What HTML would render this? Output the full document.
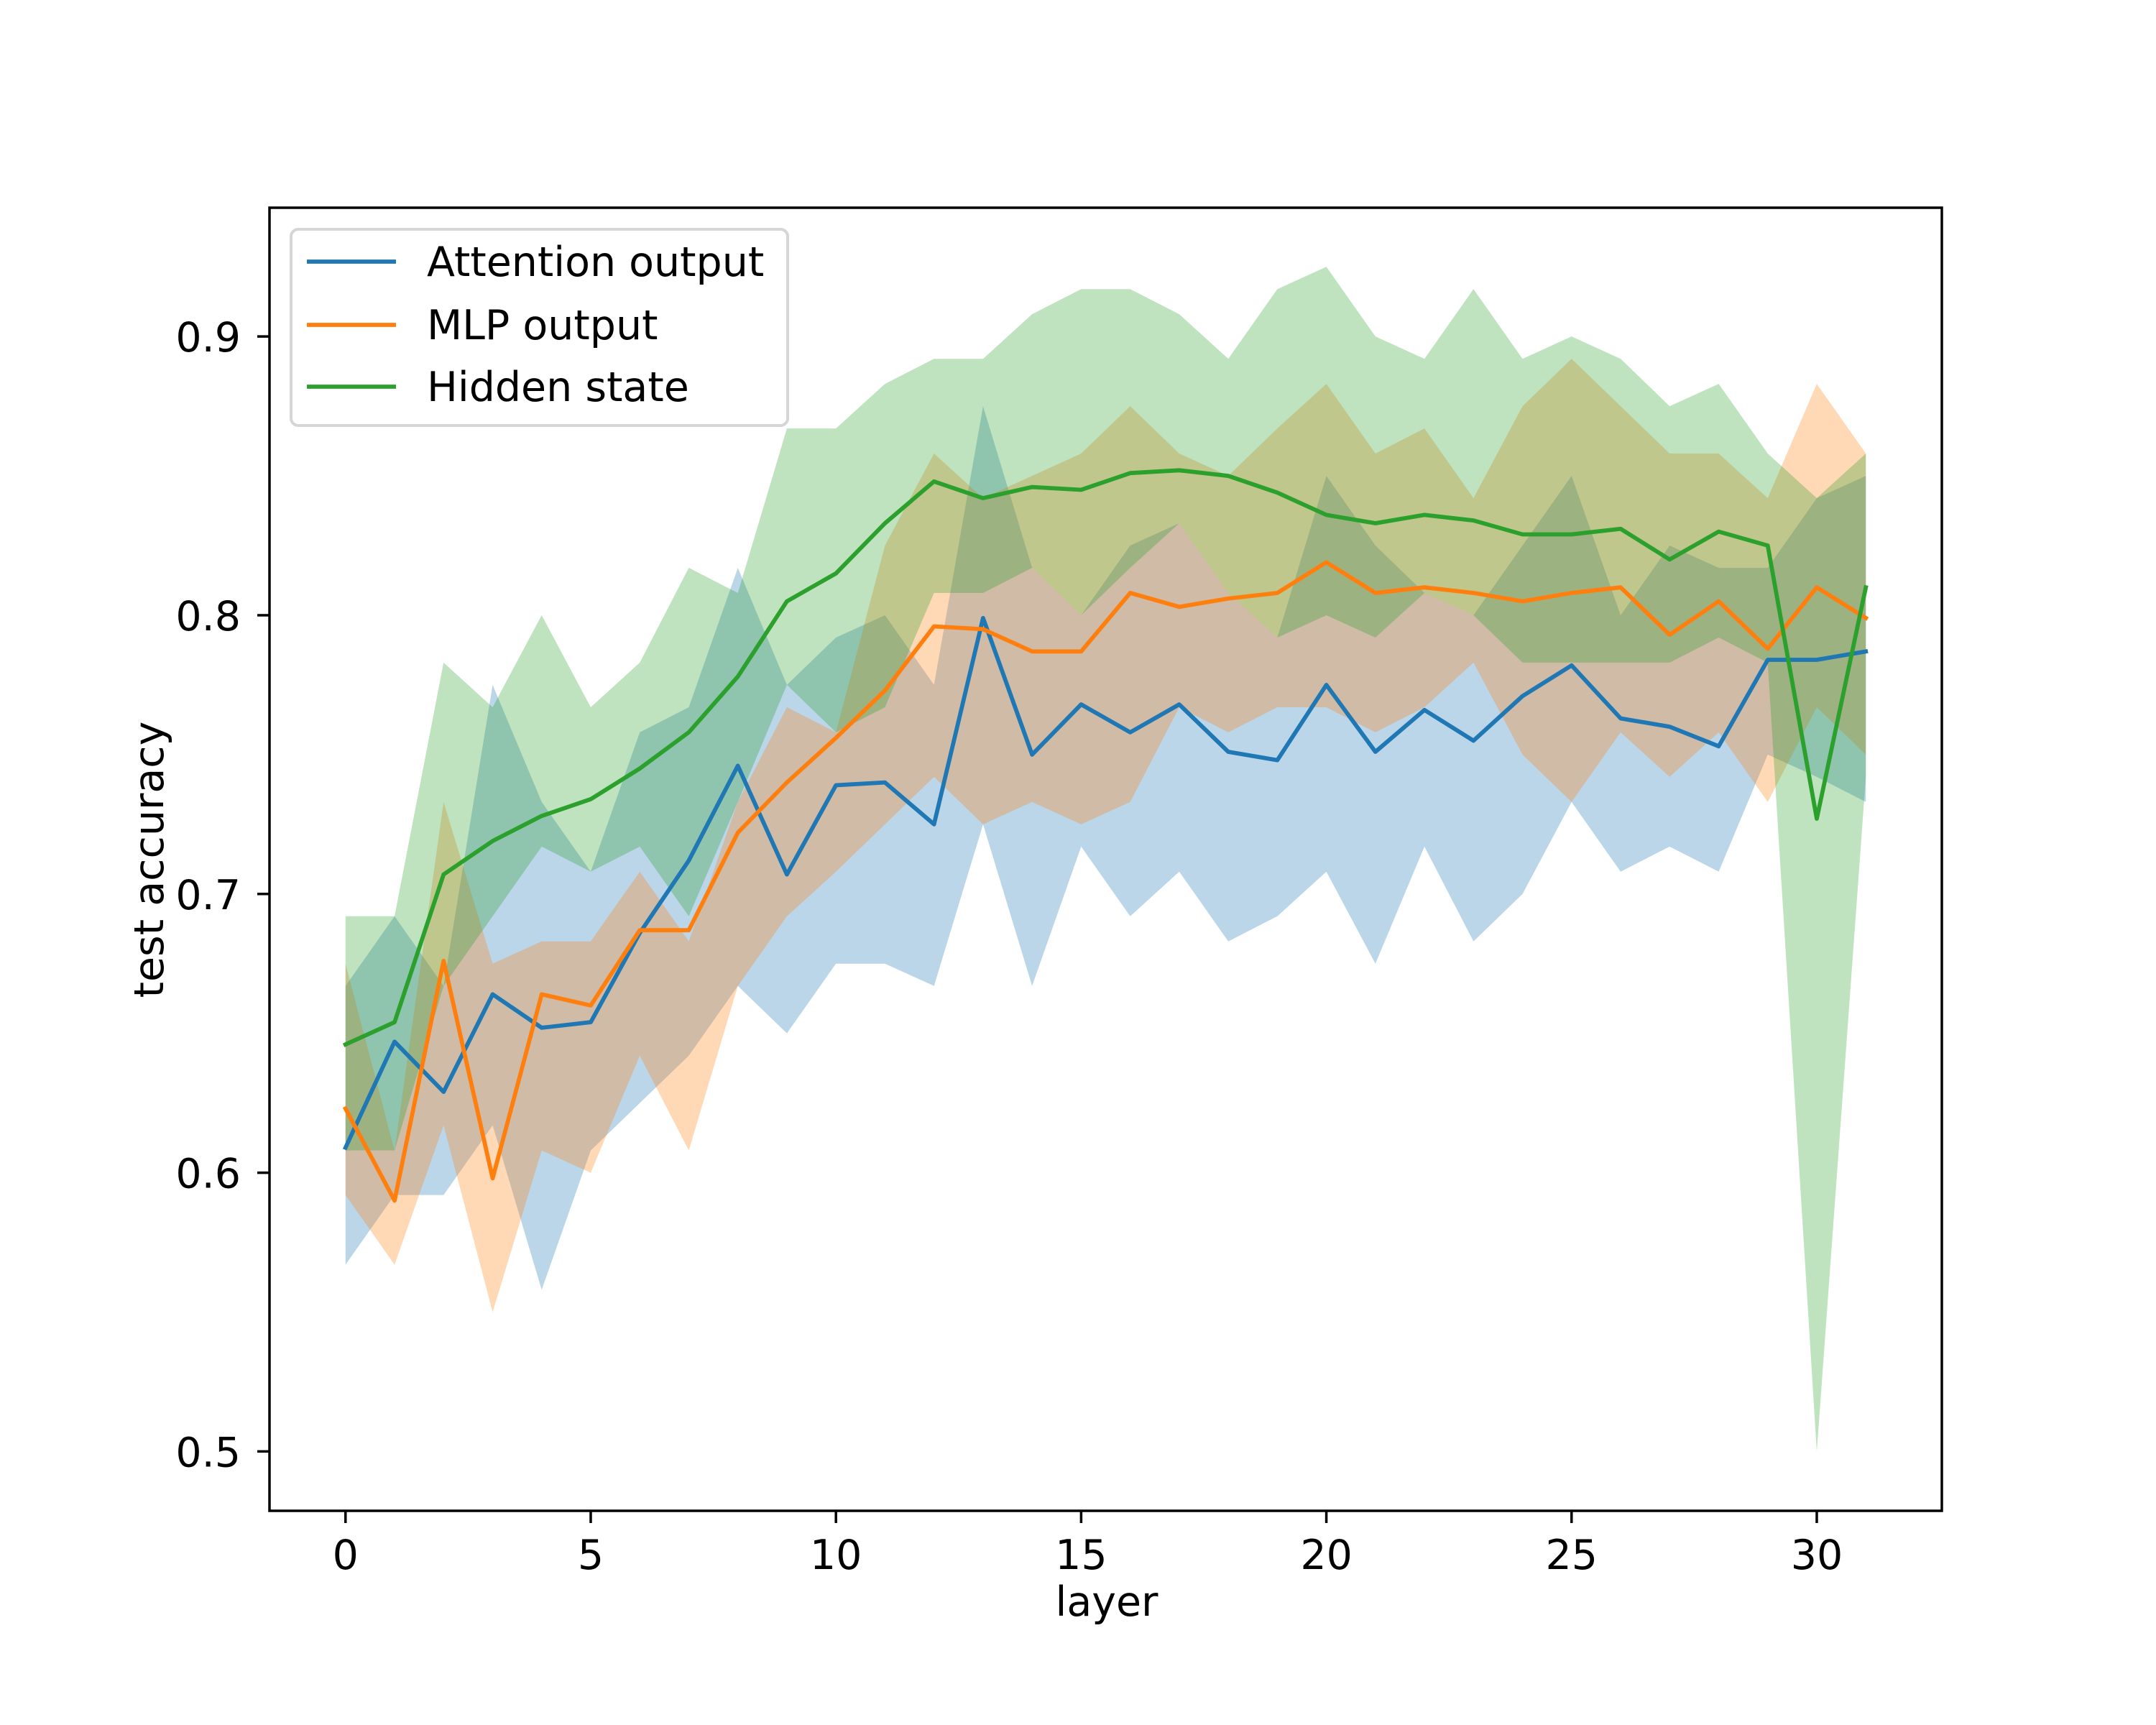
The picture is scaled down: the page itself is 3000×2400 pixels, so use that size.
<!DOCTYPE html>
<html><head><meta charset="utf-8"><style>html,body{margin:0;padding:0;background:#fff}svg{display:block}</style></head>
<body>
<svg id="chart" width="3000" height="2400" xmlns="http://www.w3.org/2000/svg" font-family="DejaVu Sans, Liberation Sans, sans-serif">
<rect width="3000" height="2400" fill="#fff"/>
<g id="bands"></g>
<g id="lines"></g>
<rect x="375" y="289" width="2327" height="1813" fill="none" stroke="#000" stroke-width="3.5"/>
<g id="xticks"></g>
<g id="yticks"></g>
<text x="1540" y="2248" font-size="57" text-anchor="middle">layer</text>
<text x="0" y="0" font-size="57" text-anchor="middle" transform="translate(227,1196) rotate(-90)">test accuracy</text>
<g>
<rect x="405" y="319" width="691" height="273" rx="10" fill="#fff" fill-opacity="0.8" stroke="#d6d6d6" stroke-width="4"/>
<line x1="427" y1="364" x2="551" y2="364" stroke="#1f77b4" stroke-width="5.8"/>
<text x="594" y="384" font-size="57">Attention output</text>
<line x1="427" y1="452" x2="551" y2="452" stroke="#ff7f0e" stroke-width="5.8"/>
<text x="594" y="472" font-size="57">MLP output</text>
<line x1="427" y1="538" x2="551" y2="538" stroke="#2ca02c" stroke-width="5.8"/>
<text x="594" y="558" font-size="57">Hidden state</text>
</g>
</svg>
<script>
const layers = Array.from({length:32},(_, i)=>i);
const attnMean = [.609,.647,.629,.664,.652,.654,.686,.712,.746,.707,.739,.740,.725,.799,.750,.768,.758,.768,.751,.748,.775,.751,.766,.755,.771,.782,.763,.760,.753,.784,.784,.787];
const attnUpper = [.667,.692,.667,.775,.733,.708,.758,.767,.817,.775,.792,.800,.775,.875,.817,.800,.825,.833,.808,.792,.850,.825,.808,.800,.825,.850,.800,.825,.817,.817,.842,.850];
const attnLower = [.567,.592,.592,.617,.558,.608,.625,.642,.667,.650,.675,.675,.667,.725,.667,.717,.692,.708,.683,.692,.708,.675,.717,.683,.700,.733,.708,.717,.708,.750,.742,.733];
const mlpMean = [.623,.590,.676,.598,.664,.660,.687,.687,.722,.740,.756,.773,.796,.795,.787,.787,.808,.803,.806,.808,.819,.808,.810,.808,.805,.808,.810,.793,.805,.788,.810,.799];
const mlpUpper = [.675,.608,.733,.675,.683,.683,.708,.683,.733,.767,.758,.825,.858,.842,.850,.858,.875,.858,.850,.867,.883,.858,.867,.842,.875,.892,.875,.858,.858,.842,.883,.858];
const mlpLower = [.592,.567,.617,.550,.608,.600,.642,.608,.667,.692,.708,.725,.742,.725,.733,.725,.733,.767,.758,.767,.767,.758,.767,.783,.750,.733,.758,.742,.758,.733,.767,.750];
const hidMean = [.646,.654,.707,.719,.728,.734,.745,.758,.778,.805,.815,.833,.848,.842,.846,.845,.851,.852,.850,.844,.836,.833,.836,.834,.829,.829,.831,.820,.830,.825,.727,.810];
const hidUpper = [.692,.692,.783,.767,.800,.767,.783,.817,.808,.867,.867,.883,.892,.892,.908,.917,.917,.908,.892,.917,.925,.900,.892,.917,.892,.900,.892,.875,.883,.858,.842,.858];
const hidLower = [.608,.608,.667,.692,.717,.708,.717,.692,.733,.775,.758,.767,.808,.808,.817,.800,.817,.833,.808,.792,.800,.792,.808,.800,.783,.783,.783,.783,.792,.783,.500,.742];
const xTicks = [0,5,10,15,20,25,30];
const yTicks = [0.5,0.6,0.7,0.8,0.9];
const yTickLabels = ["0.5","0.6","0.7","0.8","0.9"];

const NS="http://www.w3.org/2000/svg";
const L=375,R=2702,T=289,B=2102;
const xMin=-1.55,xMax=32.55,yMin=0.4787,yMax=0.9462;
const xs=v=>L+(v-xMin)/(xMax-xMin)*(R-L);
const ys=v=>B-(v-yMin)/(yMax-yMin)*(B-T);
function mk(tag,attrs,parent){const e=document.createElementNS(NS,tag);for(const k in attrs)e.setAttribute(k,attrs[k]);parent.appendChild(e);return e;}
const bands=document.getElementById('bands'),lines=document.getElementById('lines');
const series=[
 ['attention',attnMean,attnUpper,attnLower,'#1f77b4'],
 ['mlp',mlpMean,mlpUpper,mlpLower,'#ff7f0e'],
 ['hidden',hidMean,hidUpper,hidLower,'#2ca02c']];
series.forEach(([n,m,u,lo,c])=>{
  let pts=layers.map(i=>xs(i)+','+ys(u[i]));
  pts=pts.concat(layers.slice().reverse().map(i=>xs(i)+','+ys(lo[i])));
  const p=mk('polygon',{points:pts.join(' '),fill:c,'fill-opacity':0.3,stroke:'none'},bands);
  
  
});
series.forEach(([n,m,u,lo,c])=>{
  const p=mk('polyline',{points:layers.map(i=>xs(i)+','+ys(m[i])).join(' '),fill:'none',stroke:c,'stroke-width':5.8,'stroke-linejoin':'round','stroke-linecap':'square'},lines);
  
  
});
const xg=document.getElementById('xticks');
xTicks.forEach(v=>{
  const t=mk('line',{x1:xs(v),x2:xs(v),y1:B,y2:B+17,stroke:'#000','stroke-width':3.5},xg);
  
  
  const tx=mk('text',{x:xs(v),y:B+81,'font-size':57,'text-anchor':'middle'},xg);
  tx.textContent=String(v);
  
  
});
const yg=document.getElementById('yticks');
yTicks.forEach((v,i)=>{
  const t=mk('line',{x1:L-17,x2:L,y1:ys(v),y2:ys(v),stroke:'#000','stroke-width':3.5},yg);
  
  
  const tx=mk('text',{x:L-40,y:ys(v)+21,'font-size':57,'text-anchor':'end'},yg);
  tx.textContent=yTickLabels[i];
  
  
});
</script>
</body></html>
